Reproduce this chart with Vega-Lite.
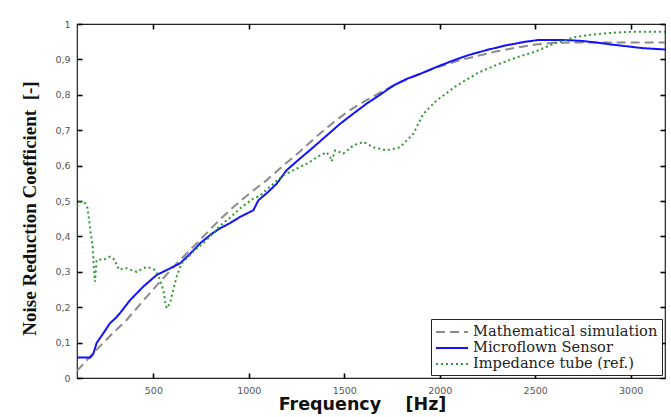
{
  "$schema": "https://vega.github.io/schema/vega-lite/v6.json",
  "width": 588,
  "height": 354,
  "autosize": {"type": "none"},
  "padding": {"left": 77, "top": 24, "right": 6, "bottom": 39},
  "background": "white",
  "config": {
    "view": {"stroke": "#222", "strokeWidth": 1.2},
    "axis": {"grid": false, "labelFont": "DejaVu Sans", "labelFontSize": 9.5, "labelColor": "#555", "domain": false, "ticks": true, "tickColor": "#000", "tickWidth": 1.6, "tickSize": -5, "labelPadding": 12}
  },
  "data": {"values": [
    {"s": "Mathematical simulation", "f": 100, "v": 0.02},
    {"s": "Mathematical simulation", "f": 185, "v": 0.07},
    {"s": "Mathematical simulation", "f": 270, "v": 0.117},
    {"s": "Mathematical simulation", "f": 360, "v": 0.164},
    {"s": "Mathematical simulation", "f": 450, "v": 0.22},
    {"s": "Mathematical simulation", "f": 535, "v": 0.272},
    {"s": "Mathematical simulation", "f": 620, "v": 0.322},
    {"s": "Mathematical simulation", "f": 709, "v": 0.371},
    {"s": "Mathematical simulation", "f": 780, "v": 0.41},
    {"s": "Mathematical simulation", "f": 849, "v": 0.448},
    {"s": "Mathematical simulation", "f": 919, "v": 0.483},
    {"s": "Mathematical simulation", "f": 1000, "v": 0.52},
    {"s": "Mathematical simulation", "f": 1094, "v": 0.559},
    {"s": "Mathematical simulation", "f": 1180, "v": 0.6},
    {"s": "Mathematical simulation", "f": 1268, "v": 0.64},
    {"s": "Mathematical simulation", "f": 1350, "v": 0.68},
    {"s": "Mathematical simulation", "f": 1443, "v": 0.722},
    {"s": "Mathematical simulation", "f": 1530, "v": 0.757},
    {"s": "Mathematical simulation", "f": 1617, "v": 0.785},
    {"s": "Mathematical simulation", "f": 1700, "v": 0.81},
    {"s": "Mathematical simulation", "f": 1792, "v": 0.835},
    {"s": "Mathematical simulation", "f": 1900, "v": 0.86},
    {"s": "Mathematical simulation", "f": 2000, "v": 0.88},
    {"s": "Mathematical simulation", "f": 2100, "v": 0.897},
    {"s": "Mathematical simulation", "f": 2200, "v": 0.91},
    {"s": "Mathematical simulation", "f": 2300, "v": 0.923},
    {"s": "Mathematical simulation", "f": 2400, "v": 0.933},
    {"s": "Mathematical simulation", "f": 2500, "v": 0.942},
    {"s": "Mathematical simulation", "f": 2600, "v": 0.947},
    {"s": "Mathematical simulation", "f": 2700, "v": 0.948},
    {"s": "Mathematical simulation", "f": 3180, "v": 0.948},
    {"s": "Microflown Sensor", "f": 100, "v": 0.058},
    {"s": "Microflown Sensor", "f": 170, "v": 0.058},
    {"s": "Microflown Sensor", "f": 185, "v": 0.068},
    {"s": "Microflown Sensor", "f": 203, "v": 0.099},
    {"s": "Microflown Sensor", "f": 240, "v": 0.128},
    {"s": "Microflown Sensor", "f": 273, "v": 0.155},
    {"s": "Microflown Sensor", "f": 300, "v": 0.168},
    {"s": "Microflown Sensor", "f": 325, "v": 0.183},
    {"s": "Microflown Sensor", "f": 378, "v": 0.22},
    {"s": "Microflown Sensor", "f": 447, "v": 0.258},
    {"s": "Microflown Sensor", "f": 517, "v": 0.291},
    {"s": "Microflown Sensor", "f": 570, "v": 0.305},
    {"s": "Microflown Sensor", "f": 640, "v": 0.324},
    {"s": "Microflown Sensor", "f": 700, "v": 0.355},
    {"s": "Microflown Sensor", "f": 744, "v": 0.38},
    {"s": "Microflown Sensor", "f": 800, "v": 0.405},
    {"s": "Microflown Sensor", "f": 849, "v": 0.423},
    {"s": "Microflown Sensor", "f": 900, "v": 0.437},
    {"s": "Microflown Sensor", "f": 954, "v": 0.455},
    {"s": "Microflown Sensor", "f": 1006, "v": 0.469},
    {"s": "Microflown Sensor", "f": 1024, "v": 0.474},
    {"s": "Microflown Sensor", "f": 1050, "v": 0.502},
    {"s": "Microflown Sensor", "f": 1100, "v": 0.525},
    {"s": "Microflown Sensor", "f": 1146, "v": 0.549},
    {"s": "Microflown Sensor", "f": 1198, "v": 0.587},
    {"s": "Microflown Sensor", "f": 1268, "v": 0.62},
    {"s": "Microflown Sensor", "f": 1338, "v": 0.652},
    {"s": "Microflown Sensor", "f": 1408, "v": 0.685},
    {"s": "Microflown Sensor", "f": 1478, "v": 0.718},
    {"s": "Microflown Sensor", "f": 1548, "v": 0.747},
    {"s": "Microflown Sensor", "f": 1617, "v": 0.775},
    {"s": "Microflown Sensor", "f": 1687, "v": 0.8},
    {"s": "Microflown Sensor", "f": 1757, "v": 0.826},
    {"s": "Microflown Sensor", "f": 1827, "v": 0.845},
    {"s": "Microflown Sensor", "f": 1897, "v": 0.859},
    {"s": "Microflown Sensor", "f": 1980, "v": 0.878},
    {"s": "Microflown Sensor", "f": 2071, "v": 0.897},
    {"s": "Microflown Sensor", "f": 2150, "v": 0.912},
    {"s": "Microflown Sensor", "f": 2250, "v": 0.927},
    {"s": "Microflown Sensor", "f": 2350, "v": 0.94},
    {"s": "Microflown Sensor", "f": 2450, "v": 0.95},
    {"s": "Microflown Sensor", "f": 2520, "v": 0.955},
    {"s": "Microflown Sensor", "f": 2650, "v": 0.955},
    {"s": "Microflown Sensor", "f": 2750, "v": 0.952},
    {"s": "Microflown Sensor", "f": 2830, "v": 0.947},
    {"s": "Microflown Sensor", "f": 2900, "v": 0.942},
    {"s": "Microflown Sensor", "f": 2980, "v": 0.937},
    {"s": "Microflown Sensor", "f": 3060, "v": 0.932},
    {"s": "Microflown Sensor", "f": 3180, "v": 0.928},
    {"s": "Impedance tube (ref.)", "f": 100, "v": 0.483},
    {"s": "Impedance tube (ref.)", "f": 115, "v": 0.497},
    {"s": "Impedance tube (ref.)", "f": 142, "v": 0.494},
    {"s": "Impedance tube (ref.)", "f": 155, "v": 0.48},
    {"s": "Impedance tube (ref.)", "f": 165, "v": 0.44},
    {"s": "Impedance tube (ref.)", "f": 172, "v": 0.41},
    {"s": "Impedance tube (ref.)", "f": 182, "v": 0.371},
    {"s": "Impedance tube (ref.)", "f": 186, "v": 0.333},
    {"s": "Impedance tube (ref.)", "f": 190, "v": 0.3},
    {"s": "Impedance tube (ref.)", "f": 194, "v": 0.272},
    {"s": "Impedance tube (ref.)", "f": 198, "v": 0.3},
    {"s": "Impedance tube (ref.)", "f": 203, "v": 0.333},
    {"s": "Impedance tube (ref.)", "f": 220, "v": 0.335},
    {"s": "Impedance tube (ref.)", "f": 238, "v": 0.333},
    {"s": "Impedance tube (ref.)", "f": 255, "v": 0.338},
    {"s": "Impedance tube (ref.)", "f": 273, "v": 0.343},
    {"s": "Impedance tube (ref.)", "f": 290, "v": 0.337},
    {"s": "Impedance tube (ref.)", "f": 299, "v": 0.333},
    {"s": "Impedance tube (ref.)", "f": 310, "v": 0.315},
    {"s": "Impedance tube (ref.)", "f": 325, "v": 0.305},
    {"s": "Impedance tube (ref.)", "f": 340, "v": 0.31},
    {"s": "Impedance tube (ref.)", "f": 360, "v": 0.31},
    {"s": "Impedance tube (ref.)", "f": 385, "v": 0.305},
    {"s": "Impedance tube (ref.)", "f": 413, "v": 0.3},
    {"s": "Impedance tube (ref.)", "f": 440, "v": 0.308},
    {"s": "Impedance tube (ref.)", "f": 465, "v": 0.314},
    {"s": "Impedance tube (ref.)", "f": 490, "v": 0.31},
    {"s": "Impedance tube (ref.)", "f": 509, "v": 0.305},
    {"s": "Impedance tube (ref.)", "f": 525, "v": 0.29},
    {"s": "Impedance tube (ref.)", "f": 535, "v": 0.277},
    {"s": "Impedance tube (ref.)", "f": 552, "v": 0.249},
    {"s": "Impedance tube (ref.)", "f": 562, "v": 0.215},
    {"s": "Impedance tube (ref.)", "f": 570, "v": 0.197},
    {"s": "Impedance tube (ref.)", "f": 587, "v": 0.211},
    {"s": "Impedance tube (ref.)", "f": 604, "v": 0.249},
    {"s": "Impedance tube (ref.)", "f": 622, "v": 0.286},
    {"s": "Impedance tube (ref.)", "f": 648, "v": 0.324},
    {"s": "Impedance tube (ref.)", "f": 680, "v": 0.34},
    {"s": "Impedance tube (ref.)", "f": 709, "v": 0.357},
    {"s": "Impedance tube (ref.)", "f": 779, "v": 0.39},
    {"s": "Impedance tube (ref.)", "f": 849, "v": 0.43},
    {"s": "Impedance tube (ref.)", "f": 900, "v": 0.452},
    {"s": "Impedance tube (ref.)", "f": 954, "v": 0.479},
    {"s": "Impedance tube (ref.)", "f": 1024, "v": 0.507},
    {"s": "Impedance tube (ref.)", "f": 1059, "v": 0.515},
    {"s": "Impedance tube (ref.)", "f": 1120, "v": 0.545},
    {"s": "Impedance tube (ref.)", "f": 1181, "v": 0.573},
    {"s": "Impedance tube (ref.)", "f": 1268, "v": 0.596},
    {"s": "Impedance tube (ref.)", "f": 1320, "v": 0.61},
    {"s": "Impedance tube (ref.)", "f": 1356, "v": 0.624},
    {"s": "Impedance tube (ref.)", "f": 1408, "v": 0.638},
    {"s": "Impedance tube (ref.)", "f": 1425, "v": 0.625},
    {"s": "Impedance tube (ref.)", "f": 1434, "v": 0.612},
    {"s": "Impedance tube (ref.)", "f": 1452, "v": 0.643},
    {"s": "Impedance tube (ref.)", "f": 1495, "v": 0.634},
    {"s": "Impedance tube (ref.)", "f": 1548, "v": 0.657},
    {"s": "Impedance tube (ref.)", "f": 1600, "v": 0.667},
    {"s": "Impedance tube (ref.)", "f": 1652, "v": 0.652},
    {"s": "Impedance tube (ref.)", "f": 1722, "v": 0.643},
    {"s": "Impedance tube (ref.)", "f": 1792, "v": 0.652},
    {"s": "Impedance tube (ref.)", "f": 1862, "v": 0.69},
    {"s": "Impedance tube (ref.)", "f": 1914, "v": 0.746},
    {"s": "Impedance tube (ref.)", "f": 1984, "v": 0.784},
    {"s": "Impedance tube (ref.)", "f": 2089, "v": 0.826},
    {"s": "Impedance tube (ref.)", "f": 2200, "v": 0.862},
    {"s": "Impedance tube (ref.)", "f": 2300, "v": 0.885},
    {"s": "Impedance tube (ref.)", "f": 2400, "v": 0.905},
    {"s": "Impedance tube (ref.)", "f": 2500, "v": 0.922},
    {"s": "Impedance tube (ref.)", "f": 2600, "v": 0.945},
    {"s": "Impedance tube (ref.)", "f": 2700, "v": 0.962},
    {"s": "Impedance tube (ref.)", "f": 2800, "v": 0.97},
    {"s": "Impedance tube (ref.)", "f": 2900, "v": 0.975},
    {"s": "Impedance tube (ref.)", "f": 3000, "v": 0.978},
    {"s": "Impedance tube (ref.)", "f": 3180, "v": 0.978}
  ]},
  "resolve": {"axis": {"x": "independent", "y": "independent"}},
  "layer": [
    {
      "mark": {"type": "line", "strokeWidth": 2, "clip": true},
      "encoding": {
        "x": {"field": "f", "type": "quantitative", "scale": {"domain": [100, 3180], "nice": false, "zero": false},
          "axis": {"orient": "bottom", "values": [500, 1000, 1500, 2000, 2500, 3000], "format": "d",
            "title": "Frequency\u00a0\u00a0\u00a0\u00a0[Hz]", "titleFont": "DejaVu Sans", "titleFontSize": 17.5, "titleFontWeight": "bold", "titleColor": "#111", "titlePadding": 1, "titleX": 285}},
        "y": {"field": "v", "type": "quantitative", "scale": {"domain": [0, 1], "nice": false},
          "axis": {"orient": "left", "values": [0, 0.1, 0.2, 0.3, 0.4, 0.5, 0.6, 0.7, 0.8, 0.9, 1],
            "labelExpr": "replace(format(datum.value, '.1~f'), '.', ',')",
            "title": "Noise Reduction Coefficient\u00a0\u00a0[-]", "titleFont": "Liberation Serif", "titleFontSize": 19, "titleFontWeight": "bold", "titleColor": "#111", "titlePadding": 15, "titleY": 184}},
        "color": {"field": "s", "type": "nominal",
          "scale": {"domain": ["Mathematical simulation", "Microflown Sensor", "Impedance tube (ref.)"], "range": ["#8a8a8a", "#1212ff", "#2e9a2e"]},
          "legend": {"title": null, "orient": "bottom-right", "offset": 3, "strokeColor": "#222", "fillColor": "white", "padding": 4,
            "labelFont": "DejaVu Serif", "labelFontSize": 14.6, "labelColor": "#222", "symbolType": "M-1,0H3", "symbolSize": 256, "symbolStrokeWidth": 2, "rowPadding": 0, "labelOffset": 20, "labelLimit": 400}},
        "strokeDash": {"field": "s", "type": "nominal",
          "scale": {"domain": ["Mathematical simulation", "Microflown Sensor", "Impedance tube (ref.)"], "range": [[9, 5], [1, 0], [2, 3]]},
          "legend": null}
      }
    },
    {
      "mark": {"type": "line", "opacity": 0},
      "encoding": {
        "x": {"field": "f", "type": "quantitative", "scale": {"domain": [100, 3180], "nice": false, "zero": false},
          "axis": {"orient": "top", "values": [500, 1000, 1500, 2000, 2500, 3000], "labels": false, "title": null}},
        "y": {"field": "v", "type": "quantitative", "scale": {"domain": [0, 1], "nice": false},
          "axis": {"orient": "right", "values": [0, 0.1, 0.2, 0.3, 0.4, 0.5, 0.6, 0.7, 0.8, 0.9, 1], "labels": false, "title": null}},
        "detail": {"field": "s", "type": "nominal"}
      }
    }
  ]
}
